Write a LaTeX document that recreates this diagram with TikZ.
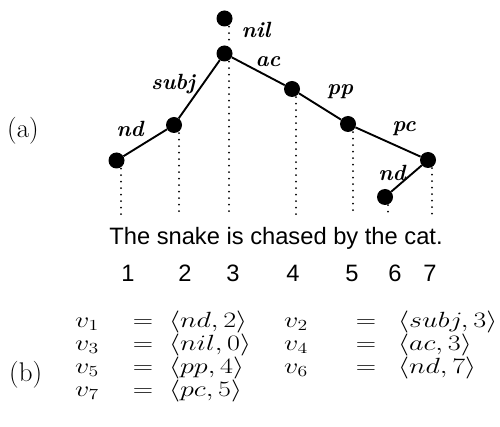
\RequirePackage{fix-cm}
\documentclass[tikz,border=0pt]{standalone}
\usepackage{fontspec}
\newfontfamily\sansf{Liberation Sans}
\newcommand{\sbm}[1]{\scalebox{1.28}[1]{$#1$}}
\begin{document}
\begin{tikzpicture}[x=1pt,y=-1pt,
  dot/.style={circle,fill=black,inner sep=0pt,minimum size=16pt},
  edge/.style={line width=1.9pt},
  dotline/.style={line width=2pt,line cap=round,dash pattern=on 0pt off 6.5pt},
  lab/.style={font=\fontsize{22}{24}\selectfont\bfseries\itshape,anchor=base,inner sep=0pt},
  sent/.style={font=\fontsize{23.7}{26}\sansf,anchor=base,inner sep=0pt},
  part/.style={font=\fontsize{27}{31}\selectfont,anchor=base west,inner sep=0pt},
  mt/.style={font=\fontsize{22}{26}\selectfont,anchor=base west,inner sep=0pt},
  eq/.style={font=\fontsize{22}{26}\selectfont,anchor=base,inner sep=0pt}]
\useasboundingbox (0,0) rectangle (500,427);
% tree nodes
\node[dot] (n0) at (224.5,18.5) {};
\node[dot] (n3) at (224.5,53.5) {};
\node[dot] (n1) at (116.5,160.5) {};
\node[dot] (n2) at (174,125) {};
\node[dot] (n4) at (292,89) {};
\node[dot] (n5) at (348,124) {};
\node[dot] (n7) at (428,160) {};
\node[dot] (n6) at (385,197) {};
% bottom ends of the dotted projection lines
\coordinate (d0) at (229,0);
\coordinate (d1) at (121,215);
\coordinate (d2) at (179,215);
\coordinate (d3) at (229,215);
\coordinate (d4) at (296,215);
\coordinate (d5) at (353,215);
\coordinate (d6) at (388,215);
\coordinate (d7) at (432,215);
% edges
\draw[edge] (n1) -- (n2) -- (n3) -- (n4) -- (n5) -- (n7) -- (n6);
% dotted lines
\draw[dotline] (n0.south -| d0) -- (n3.north -| d0);
\draw[dotline] (n1.south -| d1) -- (d1);
\draw[dotline] (n2.south -| d2) -- (d2);
\draw[dotline] (n3.south -| d3) -- (d3);
\draw[dotline] (n4.south -| d4) -- (d4);
\draw[dotline] (n5.south -| d5) -- (d5);
\draw[dotline] (n6.south -| d6) -- (d6);
\draw[dotline] (n7.south -| d7) -- (d7);
% edge labels
\node[lab] (l1) at (130,137) {nd};
\node[lab] (l2) at (173,90) {subj};
\node[lab] (l3) at (256,38) {nil};
\node[lab] (l4) at (268,67) {ac};
\node[lab] (l5) at (340,95) {pp};
\node[lab] (l7) at (404,132) {pc};
\node[lab] (l6) at (392,181) {nd};
% part labels
\node[part] (pa) at (7,138) {(a)};
\node[part] (pb) at (9,381) {(b)};
% sentence and positions
\node[sent] (s) at (276,245) {The snake is chased by the cat.};
\node[sent] (p1) at (128,282) {1};
\node[sent] (p2) at (185,282) {2};
\node[sent] (p3) at (233,282) {3};
\node[sent] (p4) at (293,282) {4};
\node[sent] (p5) at (352,282) {5};
\node[sent] (p6) at (395,282) {6};
\node[sent] (p7) at (430,282) {7};
% (b) equations
\node[mt] (v1) at (75,327) {\sbm{v_1}};
\node[eq] (e1) at (143,327) {\sbm{=}};
\node[mt] (t1) at (169,327) {\sbm{\langle nd,2\rangle}};
\node[mt] (v2) at (284,327) {\sbm{v_2}};
\node[eq] (e2) at (366,327) {\sbm{=}};
\node[mt] (t2) at (398,327) {\sbm{\langle subj,3\rangle}};
\node[mt] (v3) at (75,350) {\sbm{v_3}};
\node[eq] (e3) at (143,350) {\sbm{=}};
\node[mt] (t3) at (169,350) {\sbm{\langle nil,0\rangle}};
\node[mt] (v4) at (284,350) {\sbm{v_4}};
\node[eq] (e4) at (366,350) {\sbm{=}};
\node[mt] (t4) at (398,350) {\sbm{\langle ac,3\rangle}};
\node[mt] (v5) at (75,373) {\sbm{v_5}};
\node[eq] (e5) at (143,373) {\sbm{=}};
\node[mt] (t5) at (169,373) {\sbm{\langle pp,4\rangle}};
\node[mt] (v6) at (284,373) {\sbm{v_6}};
\node[eq] (e6) at (366,373) {\sbm{=}};
\node[mt] (t6) at (398,373) {\sbm{\langle nd,7\rangle}};
\node[mt] (v7) at (75,396) {\sbm{v_7}};
\node[eq] (e7) at (143,396) {\sbm{=}};
\node[mt] (t7) at (169,396) {\sbm{\langle pc,5\rangle}};
\end{tikzpicture}
\end{document}
